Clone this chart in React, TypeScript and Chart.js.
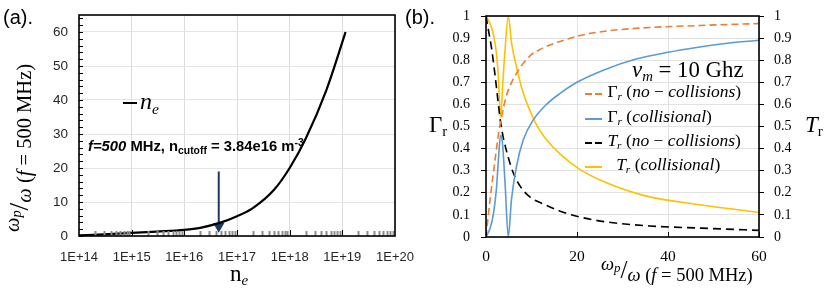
import React, { useEffect, useRef } from 'react';
import { Chart, registerables } from 'chart.js';
Chart.register(...registerables);

// ---------- Panel (a) data ----------
const neX = [1e14, 3e14, 1e15, 3e15, 1e16, 2e16, 5e16, 1e17, 2e17, 5e17, 1e18, 2e18, 5e18, 1e19, 1.15e19];
const neY = [0.2, 0.5, 0.9, 1.3, 1.8, 2.4, 4.0, 5.8, 8.2, 13.5, 20, 28.5, 43, 57, 60];
const arrowX = [4.5e16, 4.5e16];
const arrowY = [19, 2.9];
const decadeExps = [14, 15, 16, 17, 18, 19, 20];
const leftYTicks = [0, 10, 20, 30, 40, 50, 60];

// ---------- Panel (b) data ----------
const gncX = [0, 0.9, 2, 2.7, 3.2, 4.5, 6.7, 9.7, 12, 16.3, 20.7, 26.5, 36, 47, 60];
const gncY = [0, 0.17, 0.35, 0.46, 0.52, 0.64, 0.74, 0.82, 0.85, 0.885, 0.912, 0.932, 0.948, 0.957, 0.966];
const gcX = [0, 0.9, 1.6, 2.3, 2.7, 3.2, 3.6, 4.2, 4.9, 5.6, 6.7, 8.2, 10.4, 13.3, 16.3, 20, 25.8, 33, 40, 47, 53, 60];
const gcY = [0, 0.04, 0.1, 0.22, 0.34, 0.46, 0.43, 0.24, 0, 0.17, 0.32, 0.44, 0.53, 0.6, 0.65, 0.7, 0.755, 0.805, 0.836, 0.86, 0.877, 0.89];
const tncX = [0, 0.5, 1.25, 2, 2.5, 3.2, 3.8, 4.9, 6, 7.5, 9.7, 12, 16.3, 20.7, 26.5, 36, 47.4, 60];
const tncY = [1, 0.94, 0.85, 0.73, 0.64, 0.52, 0.45, 0.36, 0.29, 0.23, 0.18, 0.155, 0.117, 0.09, 0.068, 0.05, 0.04, 0.03];
const tcX = [0, 0.8, 1.6, 2.3, 2.7, 3.2, 3.7, 4.2, 4.9, 5.6, 6.7, 8.2, 9.7, 10.8, 11.9, 13.3, 16.3, 20.7, 26.5, 35, 47.4, 60];
const tcY = [1, 0.97, 0.92, 0.83, 0.73, 0.54, 0.7, 0.85, 1.0, 0.88, 0.77, 0.65, 0.57, 0.52, 0.48, 0.44, 0.375, 0.305, 0.245, 0.186, 0.145, 0.111];
const rightXTicks = [0, 20, 40, 60];

const pts = (xs: number[], ys: number[]) => xs.map((x, i) => ({ x, y: ys[i] }));

const framePlugin = {
  id: 'frame',
  afterDraw(chart: any, _args: any, opts: any) {
    const { ctx, chartArea: a } = chart;
    const sx = chart.scales.x;
    ctx.save();
    if (opts.log) {
      for (let e = 14; e < 20; e++) {
        for (let k = 1; k <= 9; k++) {
          const px = Math.round(sx.getPixelForValue(k * Math.pow(10, e))) + 0.5;
          const major = k === 1;
          if (major && e === 14) continue;
          ctx.strokeStyle = major ? '#000' : '#8c8c8c';
          ctx.lineWidth = major ? 1 : 2;
          ctx.beginPath();
          ctx.moveTo(px, a.bottom);
          ctx.lineTo(px, a.bottom - (major ? 6 : 5));
          ctx.stroke();
        }
      }
    } else if (opts.xInner) {
      sx.ticks.forEach((t: any) => {
        const px = Math.round(sx.getPixelForValue(t.value)) + 0.5;
        ctx.strokeStyle = '#000';
        ctx.lineWidth = 1;
        ctx.beginPath();
        ctx.moveTo(px, a.bottom);
        ctx.lineTo(px, a.bottom - 5);
        ctx.stroke();
      });
    }
    if (opts.yMinorStep) {
      const s = chart.scales.y;
      ctx.strokeStyle = '#000';
      ctx.lineWidth = 1;
      for (let v = s.min; v <= s.max; v += opts.yMinorStep) {
        const py = Math.round(s.getPixelForValue(v)) + 0.5;
        ctx.beginPath();
        ctx.moveTo(a.left, py);
        ctx.lineTo(a.left + 4, py);
        ctx.stroke();
      }
    }
    ctx.strokeStyle = '#000';
    ctx.lineWidth = 1.6;
    ctx.strokeRect(a.left, a.top, a.right - a.left, a.bottom - a.top);
    ctx.restore();
  },
};

const serif = '"Liberation Serif", "DejaVu Serif", serif';
const sans = '"Liberation Sans", Arial, sans-serif';
const noPad = (s: any) => { s.paddingLeft = 0; s.paddingRight = 0; s.paddingTop = 0; s.paddingBottom = 0; };

function LeftChart() {
  const ref = useRef<HTMLCanvasElement>(null);
  useEffect(() => {
    const chart = new Chart(ref.current!, {
      type: 'line',
      data: {
        datasets: [
          {
            data: pts(neX, neY),
            borderColor: '#000',
            borderWidth: 2.2,
            pointRadius: 0,
            cubicInterpolationMode: 'monotone',
          },
          {
            data: pts(arrowX, arrowY),
            borderColor: '#1F3864',
            backgroundColor: '#1F3864',
            borderWidth: 2,
            pointRadius: [0, 4.5],
            pointStyle: 'triangle',
            rotation: 180,
            pointBackgroundColor: '#1F3864',
            pointBorderColor: '#1F3864',
          } as any,
        ],
      },
      options: {
        animation: false,
        responsive: false,
        devicePixelRatio: 1,
        layout: { autoPadding: false, padding: { top: 15, right: 20, left: 0, bottom: 0 } },
        plugins: { legend: { display: false }, tooltip: { enabled: false }, frame: { log: true, yMinorStep: 2 } } as any,
        scales: {
          x: {
            type: 'logarithmic',
            min: 1e14,
            max: 1e20,
            afterFit: (s: any) => { s.height = 62; noPad(s); },
            border: { display: false },
            grid: {
              drawTicks: false,
              color: (c: any) => {
                const v = c.tick ? c.tick.value : 0;
                const lg = Math.log10(v);
                return Math.abs(lg - Math.round(lg)) < 1e-6 ? '#dcdcdc' : 'rgba(0,0,0,0)';
              },
            },
            ticks: {
              autoSkip: false,
              maxRotation: 0,
              padding: 14,
              color: '#262626',
              font: { family: sans, size: 13 },
              callback: (v: any) => {
                const lg = Math.log10(Number(v));
                const r = Math.round(lg);
                return Math.abs(lg - r) < 1e-6 && decadeExps.includes(r) ? `1E+${r}` : '';
              },
            },
          },
          y: {
            type: 'linear',
            min: 0,
            max: 65,
            afterFit: (s: any) => { s.width = 79; noPad(s); },
            border: { display: false },
            afterBuildTicks: (s: any) => { s.ticks = leftYTicks.map((v) => ({ value: v })); },
            grid: { drawTicks: false, color: '#e4e4e4' },
            ticks: { padding: 11, color: '#262626', font: { family: sans, size: 13.5 } },
          },
        },
      } as any,
      plugins: [framePlugin],
    });
    return () => chart.destroy();
  }, []);
  return <canvas ref={ref} width={415} height={298} style={{ position: 'absolute', left: 0, top: 0 }} />;
}

function RightChart() {
  const ref = useRef<HTMLCanvasElement>(null);
  useEffect(() => {
    const common = { pointRadius: 0, borderWidth: 1.6, cubicInterpolationMode: 'monotone', yAxisID: 'y' };
    const chart = new Chart(ref.current!, {
      type: 'line',
      data: {
        datasets: [
          { ...common, data: pts(gncX, gncY), borderColor: '#ED7D31', borderDash: [7, 4] },
          { ...common, data: pts(gcX, gcY), borderColor: '#5B9BD5' },
          { ...common, data: pts(tncX, tncY), borderColor: '#000000', borderDash: [8, 5] },
          { ...common, data: pts(tcX, tcY), borderColor: '#FFC000' },
        ] as any,
      },
      options: {
        animation: false,
        responsive: false,
        devicePixelRatio: 1,
        layout: { autoPadding: false, padding: { top: 16, right: 0, left: 0, bottom: 0 } },
        plugins: { legend: { display: false }, tooltip: { enabled: false }, frame: { xInner: true, log: false } } as any,
        scales: {
          x: {
            type: 'linear',
            min: 0,
            max: 60,
            afterFit: (s: any) => { s.height = 61; noPad(s); },
            afterBuildTicks: (s: any) => { s.ticks = rightXTicks.map((v) => ({ value: v })); },
            border: { display: false },
            grid: { drawTicks: false, color: '#e2e2e2' },
            ticks: { padding: 11, color: '#000', font: { family: serif, size: 15.5 }, maxRotation: 0 },
          },
          y: {
            type: 'linear',
            position: 'left',
            min: 0,
            max: 1,
            afterFit: (s: any) => { s.width = 71; noPad(s); },
            border: { display: false },
            grid: { tickLength: 5, color: '#e2e2e2', tickColor: '#000' },
            ticks: { stepSize: 0.1, padding: 11, color: '#000', font: { family: serif, size: 14 }, callback: (v: any) => String(+Number(v).toFixed(1)) },
          },
          y2: {
            type: 'linear',
            position: 'right',
            min: 0,
            max: 1,
            afterFit: (s: any) => { s.width = 71; noPad(s); },
            border: { display: false },
            grid: { tickLength: 5, drawOnChartArea: false, tickColor: '#000' },
            ticks: { stepSize: 0.1, padding: 10, color: '#000', font: { family: serif, size: 14 }, callback: (v: any) => String(+Number(v).toFixed(1)) },
          },
        },
      } as any,
      plugins: [framePlugin],
    });
    return () => chart.destroy();
  }, []);
  return <canvas ref={ref} width={415} height={298} style={{ position: 'absolute', left: 415, top: 0 }} />;
}

const abs = (left: number, top: number, extra: React.CSSProperties = {}): React.CSSProperties => ({
  position: 'absolute', left, top, whiteSpace: 'nowrap', lineHeight: 1, ...extra,
});

function Swatch({ color, dashed }: { color: string; dashed?: boolean }) {
  const seg = (w: number, ml: number) => (
    <span style={{ display: 'inline-block', width: w, height: 2, background: color, marginLeft: ml, verticalAlign: 'middle' }} />
  );
  return (
    <span style={{ display: 'inline-block', width: 18, verticalAlign: 'middle' }}>
      {dashed ? <>{seg(7, 0)}{seg(7, 3)}</> : seg(17, 0)}
    </span>
  );
}

function OmegaTitle({ size }: { size: number }) {
  return (
    <span style={{ fontFamily: serif, fontSize: size }}>
      <span style={{ position: 'relative', top: -size * 0.45 }}>
        <i>ω</i><sub style={{ fontSize: '0.7em', verticalAlign: 'baseline', position: 'relative', top: size * 0.12 }}><i>p</i></sub>
      </span>
      <span style={{ fontSize: '1.35em' }}>/</span>
      <span style={{ position: 'relative', top: size * 0.15 }}>
        <i>ω</i> (<i>f</i> = 500 MHz)
      </span>
    </span>
  );
}

export default function App() {
  const subS: React.CSSProperties = { fontSize: '0.65em', verticalAlign: 'baseline', position: 'relative', top: '0.3em' };
  const leg = 17.5;
  return (
    <div style={{ position: 'fixed', left: 0, top: 0, width: 830, height: 298, background: '#fff', overflow: 'hidden', color: '#000' }}>
      <LeftChart />
      <RightChart />
      {/* Panel (a) texts */}
      <div style={abs(3, 7, { fontFamily: sans, fontSize: 20 })}>(a).</div>
      <div style={abs(19, 148, { transform: 'translate(-50%, -50%) rotate(-90deg)' })}>
        <OmegaTitle size={20.5} />
      </div>
      <div style={abs(123, 89, { fontFamily: serif, fontSize: 24 })}>
        <span style={{ display: 'inline-block', width: 14, height: 2, background: '#000', verticalAlign: 'middle', marginRight: 3 }} />
        <i>n</i><sub style={subS}><i>e</i></sub>
      </div>
      <div style={abs(88, 139, { fontFamily: sans, fontSize: 14.8, fontWeight: 'bold' })}>
        <i>f=500</i> MHz, n<sub style={{ fontSize: '0.7em', verticalAlign: 'baseline', position: 'relative', top: '0.3em' }}>cutoff</sub> = 3.84e16 m<sup style={{ fontSize: '0.7em', verticalAlign: 'baseline', position: 'relative', top: '-0.45em' }}>-3</sup>
      </div>
      <div style={abs(230, 262, { fontFamily: serif, fontSize: 23 })}>
        n<sub style={subS}><i>e</i></sub>
      </div>
      {/* Panel (b) texts */}
      <div style={abs(405, 7, { fontFamily: sans, fontSize: 20 })}>(b).</div>
      <div style={abs(429, 113, { fontFamily: serif, fontSize: 23 })}>
        Γ<sub style={subS}>r</sub>
      </div>
      <div style={abs(805, 113, { fontFamily: serif, fontSize: 23 })}>
        <i>T</i><sub style={subS}>r</sub>
      </div>
      <div style={abs(601, 258)}>
        <OmegaTitle size={18.5} />
      </div>
      <div style={abs(632, 59, { fontFamily: serif, fontSize: 22.8 })}>
        <i>ν</i><sub style={subS}><i>m</i></sub> = 10 Ghz
      </div>
      <div style={abs(585, 83, { fontFamily: serif, fontSize: leg })}>
        <Swatch color="#ED7D31" dashed /> Γ<sub style={subS}><i>r</i></sub> (<i>no</i> − <i>collisions</i>)
      </div>
      <div style={abs(585, 107.5, { fontFamily: serif, fontSize: leg })}>
        <Swatch color="#5B9BD5" /> Γ<sub style={subS}><i>r</i></sub> (<i>collisional</i>)
      </div>
      <div style={abs(585, 132, { fontFamily: serif, fontSize: leg })}>
        <Swatch color="#000" dashed /> <i>T</i><sub style={subS}><i>r</i></sub> (<i>no</i> − <i>collisions</i>)
      </div>
      <div style={abs(585, 156, { fontFamily: serif, fontSize: leg })}>
        <Swatch color="#FFC000" />&nbsp;&nbsp;&nbsp;<i>T</i><sub style={subS}><i>r</i></sub> (<i>collisional</i>)
      </div>
    </div>
  );
}
